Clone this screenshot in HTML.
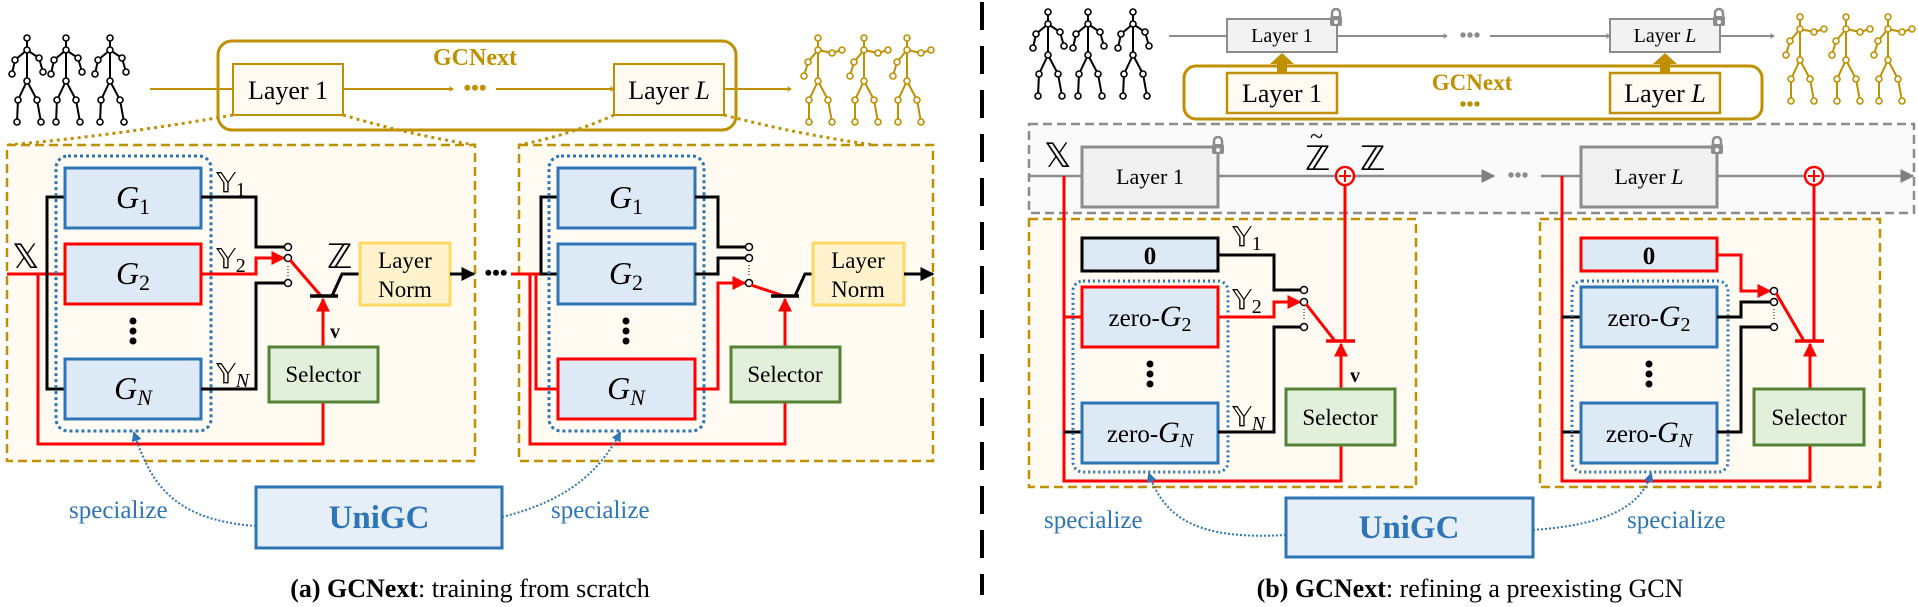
<!DOCTYPE html>
<html><head><meta charset="utf-8"><style>
html,body{margin:0;padding:0;background:#fff;}
svg{display:block;font-family:"Liberation Serif","Times New Roman",serif;}
svg text{font-family:"Liberation Serif","Times New Roman",serif;}
svg text.ds{font-family:"DejaVu Sans","Liberation Serif",serif;}
</style></head><body>
<svg width="1918" height="607" viewBox="0 0 1918 607" xmlns="http://www.w3.org/2000/svg" font-family="Liberation Serif, serif">
<defs>
<marker id="ag" viewBox="0 0 10 10" refX="9" refY="5" markerWidth="5" markerHeight="5" orient="auto" markerUnits="userSpaceOnUse"><path d="M1,0 L9,5 L1,10" fill="none" stroke="#bf9000" stroke-width="2"/></marker>
<marker id="agr" viewBox="0 0 10 10" refX="9" refY="5" markerWidth="5" markerHeight="5" orient="auto" markerUnits="userSpaceOnUse"><path d="M1,0 L9,5 L1,10" fill="none" stroke="#8c8c8c" stroke-width="2"/></marker>
<marker id="ab" viewBox="0 0 10 10" refX="9" refY="5" markerWidth="14" markerHeight="14" orient="auto" markerUnits="userSpaceOnUse"><path d="M0,0 L10,5 L0,10 z" fill="#000"/></marker>
<marker id="ar" viewBox="0 0 10 10" refX="9" refY="5" markerWidth="14" markerHeight="14" orient="auto" markerUnits="userSpaceOnUse"><path d="M0,0 L10,5 L0,10 z" fill="#ff0000"/></marker>
<marker id="agf" viewBox="0 0 10 10" refX="9" refY="5" markerWidth="14" markerHeight="14" orient="auto" markerUnits="userSpaceOnUse"><path d="M0,0 L10,5 L0,10 z" fill="#808080"/></marker>
<marker id="abl" viewBox="0 0 10 10" refX="8" refY="5" markerWidth="10" markerHeight="10" orient="auto" markerUnits="userSpaceOnUse"><path d="M0,0 L10,5 L0,10 z" fill="#2e75b6"/></marker>
<g id="sk">
<path d="M0,0 V43 M-12,22 L0,12 L12,20 M-12,22 L-15,36 M12,20 L16,34 M0,43 L-9,62 L-10,84 M0,43 L10,62 L14,84" fill="none" stroke-width="2"/>
<g fill="#fff" stroke-width="1.6"><circle cx="0" cy="0" r="3"/><circle cx="0" cy="12" r="3"/><circle cx="-12" cy="22" r="3"/><circle cx="12" cy="20" r="3"/><circle cx="-15" cy="36" r="3"/><circle cx="16" cy="34" r="3"/><circle cx="0" cy="43" r="3"/><circle cx="-9" cy="62" r="3"/><circle cx="10" cy="62" r="3"/><circle cx="-10" cy="84" r="3"/><circle cx="14" cy="84" r="3"/></g>
</g>
<g id="skg">
<path d="M0,0 V43 M-10,24 L0,12 L14,15 M-10,24 L-14,38 M14,15 L24,12 M0,43 L-9,62 L-9,84 M0,43 L10,62 L14,84" fill="none" stroke-width="2"/>
<g fill="#fff" stroke-width="1.6"><circle cx="0" cy="0" r="3"/><circle cx="0" cy="12" r="3"/><circle cx="-10" cy="24" r="3"/><circle cx="14" cy="15" r="3"/><circle cx="-14" cy="38" r="3"/><circle cx="24" cy="12" r="3"/><circle cx="0" cy="43" r="3"/><circle cx="-9" cy="62" r="3"/><circle cx="10" cy="62" r="3"/><circle cx="-9" cy="84" r="3"/><circle cx="14" cy="84" r="3"/></g>
</g>
<g id="lock"><rect x="-6" y="-3" width="12" height="10" rx="2" fill="#8c8c8c"/><path d="M-4,-3 V-6 A4,4 0 0 1 4,-6 V-3" fill="none" stroke="#8c8c8c" stroke-width="2.5"/><circle cx="0" cy="3" r="2" fill="#fff"/></g>
</defs>

<!-- ============ PANEL A ============ -->
<g stroke="#000"><use href="#sk" x="27" y="38"/><use href="#sk" x="66" y="38"/><use href="#sk" x="110" y="38"/></g>
<g stroke="#bf9000"><use href="#skg" x="818" y="38"/><use href="#skg" x="864" y="38"/><use href="#skg" x="907" y="38"/></g>

<rect x="218" y="41" width="518" height="89" rx="14" fill="#fff" stroke="#bf9000" stroke-width="3"/>
<text x="475" y="65" font-size="24" font-weight="bold" fill="#bf9000" text-anchor="middle">GCNext</text>
<line x1="150" y1="89" x2="233" y2="89" stroke="#bf9000" stroke-width="2"/>
<rect x="233" y="64" width="110" height="51" fill="#fffbf2" stroke="#bf9000" stroke-width="2"/>
<text x="288" y="99" font-size="26" text-anchor="middle">Layer 1</text>
<line x1="343" y1="89" x2="453" y2="89" stroke="#bf9000" stroke-width="2" marker-end="url(#ag)"/>
<text x="475" y="95" font-size="22" font-weight="bold" fill="#bf9000" text-anchor="middle">•••</text>
<line x1="496" y1="89" x2="614" y2="89" stroke="#bf9000" stroke-width="2" marker-end="url(#ag)"/>
<rect x="614" y="64" width="110" height="51" fill="#fffbf2" stroke="#bf9000" stroke-width="2"/>
<text x="669" y="99" font-size="26" text-anchor="middle">Layer <tspan font-style="italic">L</tspan></text>
<line x1="724" y1="89" x2="791" y2="89" stroke="#bf9000" stroke-width="2" marker-end="url(#ag)"/>

<g stroke="#bf9000" stroke-width="3" stroke-dasharray="3 4" fill="none">
<path d="M233,115 Q120,135 8,145"/><path d="M343,115 Q410,135 475,145"/>
<path d="M614,115 Q570,135 519,145"/><path d="M724,115 Q800,135 875,145"/>
</g>

<!-- box a1 -->
<rect x="7" y="145" width="468" height="316" fill="#fffbf2" stroke="#bf9000" stroke-width="2.5" stroke-dasharray="9 5"/>
<path d="M7,274 H65 M38,274 V444 H323 V402" fill="none" stroke="#ff0000" stroke-width="3"/>
<path d="M65,197 H47 V389 H65" fill="none" stroke="#000" stroke-width="3"/>
<rect x="56" y="156" width="155" height="275" rx="12" fill="none" stroke="#2e75b6" stroke-width="3" stroke-dasharray="3 3"/>
<rect x="65" y="168" width="136" height="60" fill="#dde9f5" stroke="#2e75b6" stroke-width="3"/>
<rect x="65" y="244" width="136" height="60" fill="#dde9f5" stroke="#ff0000" stroke-width="3"/>
<rect x="65" y="359" width="136" height="60" fill="#dde9f5" stroke="#2e75b6" stroke-width="3"/>
<text x="133" y="208" font-size="32" font-style="italic" text-anchor="middle">G<tspan font-size="22" font-style="normal" dy="6">1</tspan></text>
<text x="133" y="284" font-size="32" font-style="italic" text-anchor="middle">G<tspan font-size="22" font-style="normal" dy="6">2</tspan></text>
<text x="133" y="399" font-size="32" font-style="italic" text-anchor="middle">G<tspan font-size="22" dy="6">N</tspan></text>
<g fill="#000"><circle cx="133" cy="321" r="3.5"/><circle cx="133" cy="331" r="3.5"/><circle cx="133" cy="341" r="3.5"/></g>
<text x="12" y="268" font-size="34" class="ds">𝕏</text>
<text x="216" y="192" font-size="28" class="ds">𝕐<tspan font-size="20" font-family="Liberation Serif" dy="4">1</tspan></text>
<text x="216" y="268" font-size="28" class="ds">𝕐<tspan font-size="20" font-family="Liberation Serif" dy="4">2</tspan></text>
<text x="216" y="383" font-size="28" class="ds">𝕐<tspan font-size="20" font-family="Liberation Serif" font-style="italic" dy="4">N</tspan></text>
<path d="M201,197 H256 V247 H285" fill="none" stroke="#000" stroke-width="3"/>
<path d="M201,389 H256 V283 H285" fill="none" stroke="#000" stroke-width="3"/>
<path d="M201,274 H256 V258 H284" fill="none" stroke="#ff0000" stroke-width="3" marker-end="url(#ar)"/>
<g fill="#fff" stroke="#000" stroke-width="1.5"><circle cx="288" cy="247" r="3.5"/><circle cx="288" cy="258" r="3.5"/><circle cx="288" cy="283" r="3.5"/></g>
<line x1="288" y1="266" x2="288" y2="277" stroke="#000" stroke-width="1" stroke-dasharray="1 2"/>
<line x1="290" y1="260" x2="321" y2="296" stroke="#ff0000" stroke-width="3"/>
<line x1="310" y1="296" x2="338" y2="296" stroke="#000" stroke-width="3.5"/>
<path d="M332,296 L342,274 H360" fill="none" stroke="#000" stroke-width="3"/>
<text x="327" y="268" font-size="34" class="ds">ℤ</text>
<line x1="323" y1="347" x2="323" y2="299" stroke="#ff0000" stroke-width="3" marker-end="url(#ar)"/>
<text x="330" y="338" font-size="20" font-weight="bold">v</text>
<rect x="269" y="347" width="109" height="55" fill="#e2efda" stroke="#548235" stroke-width="3"/>
<text x="323" y="382" font-size="23" text-anchor="middle">Selector</text>
<rect x="360" y="243" width="90" height="62" fill="#fff2cc" stroke="#ffd966" stroke-width="3"/>
<text x="405" y="268" font-size="23" text-anchor="middle">Layer</text>
<text x="405" y="297" font-size="23" text-anchor="middle">Norm</text>
<line x1="450" y1="274" x2="474" y2="274" stroke="#000" stroke-width="3" marker-end="url(#ab)"/>
<text x="496" y="280" font-size="22" font-weight="bold" text-anchor="middle">•••</text>

<!-- box a2 -->
<rect x="519" y="145" width="414" height="316" fill="#fffbf2" stroke="#bf9000" stroke-width="2.5" stroke-dasharray="9 5"/>
<path d="M511,274 H541 M530,274 V444 H785 V402 M536,274 V389 H558" fill="none" stroke="#ff0000" stroke-width="3"/>
<path d="M558,197 H541 V274 H558" fill="none" stroke="#000" stroke-width="3"/>
<rect x="549" y="156" width="155" height="275" rx="12" fill="none" stroke="#2e75b6" stroke-width="3" stroke-dasharray="3 3"/>
<rect x="558" y="168" width="137" height="60" fill="#dde9f5" stroke="#2e75b6" stroke-width="3"/>
<rect x="558" y="244" width="137" height="60" fill="#dde9f5" stroke="#2e75b6" stroke-width="3"/>
<rect x="558" y="359" width="137" height="60" fill="#dde9f5" stroke="#ff0000" stroke-width="3"/>
<text x="626" y="208" font-size="32" font-style="italic" text-anchor="middle">G<tspan font-size="22" font-style="normal" dy="6">1</tspan></text>
<text x="626" y="284" font-size="32" font-style="italic" text-anchor="middle">G<tspan font-size="22" font-style="normal" dy="6">2</tspan></text>
<text x="626" y="399" font-size="32" font-style="italic" text-anchor="middle">G<tspan font-size="22" dy="6">N</tspan></text>
<g fill="#000"><circle cx="626" cy="321" r="3.5"/><circle cx="626" cy="331" r="3.5"/><circle cx="626" cy="341" r="3.5"/></g>
<path d="M695,197 H718 V247 H746" fill="none" stroke="#000" stroke-width="3"/>
<path d="M695,274 H718 V258 H746" fill="none" stroke="#000" stroke-width="3"/>
<path d="M695,389 H718 V283 H745" fill="none" stroke="#ff0000" stroke-width="3" marker-end="url(#ar)"/>
<g fill="#fff" stroke="#000" stroke-width="1.5"><circle cx="749" cy="247" r="3.5"/><circle cx="749" cy="258" r="3.5"/><circle cx="749" cy="283" r="3.5"/></g>
<line x1="749" y1="265" x2="749" y2="277" stroke="#000" stroke-width="1" stroke-dasharray="1 2"/>
<line x1="751" y1="285" x2="784" y2="296" stroke="#ff0000" stroke-width="3"/>
<line x1="771" y1="296" x2="799" y2="296" stroke="#000" stroke-width="3.5"/>
<path d="M795,296 L805,274 H813" fill="none" stroke="#000" stroke-width="3"/>
<line x1="785" y1="347" x2="785" y2="299" stroke="#ff0000" stroke-width="3" marker-end="url(#ar)"/>
<rect x="731" y="347" width="109" height="55" fill="#e2efda" stroke="#548235" stroke-width="3"/>
<text x="785" y="382" font-size="23" text-anchor="middle">Selector</text>
<rect x="813" y="243" width="91" height="62" fill="#fff2cc" stroke="#ffd966" stroke-width="3"/>
<text x="858" y="268" font-size="23" text-anchor="middle">Layer</text>
<text x="858" y="297" font-size="23" text-anchor="middle">Norm</text>
<line x1="904" y1="274" x2="933" y2="274" stroke="#000" stroke-width="3" marker-end="url(#ab)"/>

<!-- UniGC a -->
<rect x="256" y="487" width="246" height="61" fill="#e6eef8" stroke="#2e75b6" stroke-width="3"/>
<text x="379" y="528" font-size="33" font-weight="bold" fill="#2e75b6" text-anchor="middle">UniGC</text>
<text x="69" y="518" font-size="25" fill="#2e75b6">specialize</text>
<text x="551" y="518" font-size="25" fill="#2e75b6">specialize</text>
<path d="M256,526 C170,520 150,480 134,433" fill="none" stroke="#2e75b6" stroke-width="2" stroke-dasharray="2 2" marker-end="url(#abl)"/>
<path d="M502,517 C570,500 600,470 620,433" fill="none" stroke="#2e75b6" stroke-width="2" stroke-dasharray="2 2" marker-end="url(#abl)"/>
<text x="470" y="597" font-size="26" text-anchor="middle"><tspan font-weight="bold">(a) GCNext</tspan>: training from scratch</text>

<!-- separator -->
<line x1="982" y1="2" x2="982" y2="595" stroke="#000" stroke-width="4" stroke-dasharray="28 16"/>

<!-- ============ PANEL B ============ -->
<g stroke="#000"><use href="#sk" x="1048" y="12"/><use href="#sk" x="1088" y="12"/><use href="#sk" x="1133" y="12"/></g>
<g stroke="#bf9000"><use href="#skg" x="1800" y="17"/><use href="#skg" x="1846" y="17"/><use href="#skg" x="1888" y="17"/></g>

<line x1="1169" y1="36" x2="1227" y2="36" stroke="#8c8c8c" stroke-width="2"/>
<rect x="1227" y="19" width="110" height="33" fill="#f2f2f2" stroke="#8c8c8c" stroke-width="2"/>
<text x="1282" y="42" font-size="20" text-anchor="middle">Layer 1</text>
<use href="#lock" x="1336" y="19"/>
<line x1="1337" y1="36" x2="1447" y2="36" stroke="#8c8c8c" stroke-width="2" marker-end="url(#agr)"/>
<text x="1470" y="42" font-size="20" font-weight="bold" fill="#8c8c8c" text-anchor="middle">•••</text>
<line x1="1490" y1="36" x2="1610" y2="36" stroke="#8c8c8c" stroke-width="2" marker-end="url(#agr)"/>
<rect x="1610" y="19" width="110" height="33" fill="#f2f2f2" stroke="#8c8c8c" stroke-width="2"/>
<text x="1665" y="42" font-size="20" text-anchor="middle">Layer <tspan font-style="italic">L</tspan></text>
<use href="#lock" x="1719" y="19"/>
<line x1="1720" y1="36" x2="1774" y2="36" stroke="#8c8c8c" stroke-width="2" marker-end="url(#agr)"/>

<rect x="1184" y="66" width="578" height="53" rx="12" fill="#fff" stroke="#bf9000" stroke-width="3"/>
<rect x="1227" y="73" width="110" height="40" fill="#fffbf2" stroke="#bf9000" stroke-width="2.5"/>
<text x="1282" y="102" font-size="26" text-anchor="middle">Layer 1</text>
<rect x="1610" y="73" width="110" height="40" fill="#fffbf2" stroke="#bf9000" stroke-width="2.5"/>
<text x="1665" y="102" font-size="26" text-anchor="middle">Layer <tspan font-style="italic">L</tspan></text>
<path d="M1277,73 V64 H1270 L1282,53 L1294,64 H1287 V73 z" fill="#bf9000"/>
<path d="M1660,73 V64 H1653 L1665,53 L1677,64 H1670 V73 z" fill="#bf9000"/>
<text x="1472" y="90" font-size="23" font-weight="bold" fill="#bf9000" text-anchor="middle">GCNext</text>
<text x="1470" y="111" font-size="20" font-weight="bold" fill="#bf9000" text-anchor="middle">•••</text>

<!-- gray dashed frame -->
<rect x="1029" y="124" width="885" height="89" fill="#fafafa" stroke="#8c8c8c" stroke-width="2.5" stroke-dasharray="9 5"/>
<line x1="1029" y1="176" x2="1082" y2="176" stroke="#8c8c8c" stroke-width="2.5"/>
<rect x="1082" y="147" width="136" height="60" fill="#f0f0f0" stroke="#8c8c8c" stroke-width="3"/>
<text x="1150" y="184" font-size="22" text-anchor="middle">Layer 1</text>
<use href="#lock" x="1218" y="147"/>
<text x="1044" y="167" font-size="34" class="ds">𝕏</text>
<line x1="1218" y1="176" x2="1494" y2="176" stroke="#8c8c8c" stroke-width="2.5" marker-end="url(#agf)"/>
<text x="1305" y="170" font-size="34" class="ds">ℤ</text>
<text x="1310" y="144" font-size="24">~</text>
<text x="1360" y="170" font-size="34" class="ds">ℤ</text>
<text x="1518" y="182" font-size="20" font-weight="bold" fill="#8c8c8c" text-anchor="middle">•••</text>
<line x1="1541" y1="176" x2="1581" y2="176" stroke="#8c8c8c" stroke-width="2.5"/>
<rect x="1581" y="147" width="136" height="60" fill="#f0f0f0" stroke="#8c8c8c" stroke-width="3"/>
<text x="1649" y="184" font-size="22" text-anchor="middle">Layer <tspan font-style="italic">L</tspan></text>
<use href="#lock" x="1717" y="147"/>
<line x1="1717" y1="176" x2="1913" y2="176" stroke="#8c8c8c" stroke-width="2.5" marker-end="url(#agf)"/>

<!-- box b1 -->
<rect x="1029" y="219" width="387" height="268" fill="#fffbf2" stroke="#bf9000" stroke-width="2.5" stroke-dasharray="9 5"/>
<path d="M1064,176 V481 H1341 V445 M1064,317 H1082" fill="none" stroke="#ff0000" stroke-width="3"/>
<line x1="1064" y1="432" x2="1082" y2="432" stroke="#000" stroke-width="3"/>
<rect x="1082" y="238" width="136" height="33" fill="#dde9f5" stroke="#000" stroke-width="3"/>
<text x="1150" y="264" font-size="25" font-weight="bold" text-anchor="middle">0</text>
<rect x="1073" y="281" width="155" height="191" rx="10" fill="none" stroke="#2e75b6" stroke-width="3" stroke-dasharray="2 3"/>
<rect x="1082" y="287" width="136" height="60" fill="#dde9f5" stroke="#ff0000" stroke-width="3"/>
<rect x="1082" y="403" width="136" height="60" fill="#dde9f5" stroke="#2e75b6" stroke-width="3"/>
<text x="1150" y="326" font-size="25" text-anchor="middle">zero-<tspan font-style="italic" font-size="30">G</tspan><tspan font-size="20" dy="5">2</tspan></text>
<text x="1150" y="442" font-size="25" text-anchor="middle">zero-<tspan font-style="italic" font-size="30">G</tspan><tspan font-size="20" font-style="italic" dy="5">N</tspan></text>
<g fill="#000"><circle cx="1150" cy="364" r="3.5"/><circle cx="1150" cy="374" r="3.5"/><circle cx="1150" cy="384" r="3.5"/></g>
<text x="1232" y="246" font-size="28" class="ds">𝕐<tspan font-size="20" font-family="Liberation Serif" dy="4">1</tspan></text>
<text x="1232" y="309" font-size="28" class="ds">𝕐<tspan font-size="20" font-family="Liberation Serif" dy="4">2</tspan></text>
<text x="1232" y="426" font-size="28" class="ds">𝕐<tspan font-size="20" font-family="Liberation Serif" font-style="italic" dy="4">N</tspan></text>
<path d="M1218,255 H1274 V290 H1301" fill="none" stroke="#000" stroke-width="3"/>
<path d="M1218,432 H1274 V327 H1301" fill="none" stroke="#000" stroke-width="3"/>
<path d="M1218,317 H1274 V302 H1300" fill="none" stroke="#ff0000" stroke-width="3" marker-end="url(#ar)"/>
<g fill="#fff" stroke="#000" stroke-width="1.5"><circle cx="1304" cy="290" r="3.5"/><circle cx="1304" cy="302" r="3.5"/><circle cx="1304" cy="327" r="3.5"/></g>
<line x1="1304" y1="309" x2="1304" y2="321" stroke="#000" stroke-width="1" stroke-dasharray="1 2"/>
<line x1="1306" y1="304" x2="1335" y2="341" stroke="#ff0000" stroke-width="3"/>
<line x1="1326" y1="341" x2="1355" y2="341" stroke="#ff0000" stroke-width="3.5"/>
<line x1="1345" y1="341" x2="1345" y2="185" stroke="#ff0000" stroke-width="3"/>
<line x1="1341" y1="389" x2="1341" y2="344" stroke="#ff0000" stroke-width="3" marker-end="url(#ar)"/>
<text x="1350" y="382" font-size="20" font-weight="bold">v</text>
<rect x="1286" y="389" width="109" height="56" fill="#e2efda" stroke="#548235" stroke-width="3"/>
<text x="1340" y="425" font-size="23" text-anchor="middle">Selector</text>
<circle cx="1345" cy="176" r="9" fill="#fff" stroke="#ff0000" stroke-width="2.5"/>
<path d="M1345,170 V182 M1339,176 H1351" stroke="#ff0000" stroke-width="2"/>

<!-- box b2 -->
<rect x="1540" y="219" width="340" height="268" fill="#fffbf2" stroke="#bf9000" stroke-width="2.5" stroke-dasharray="9 5"/>
<path d="M1562,176 V481 H1810 V445" fill="none" stroke="#ff0000" stroke-width="3"/>
<path d="M1562,317 H1581 M1562,432 H1581" fill="none" stroke="#000" stroke-width="3"/>
<rect x="1581" y="238" width="136" height="33" fill="#dde9f5" stroke="#ff0000" stroke-width="3"/>
<text x="1649" y="264" font-size="25" font-weight="bold" text-anchor="middle">0</text>
<rect x="1572" y="281" width="156" height="191" rx="10" fill="none" stroke="#2e75b6" stroke-width="3" stroke-dasharray="2 3"/>
<rect x="1581" y="287" width="136" height="60" fill="#dde9f5" stroke="#2e75b6" stroke-width="3"/>
<rect x="1581" y="403" width="136" height="60" fill="#dde9f5" stroke="#2e75b6" stroke-width="3"/>
<text x="1649" y="326" font-size="25" text-anchor="middle">zero-<tspan font-style="italic" font-size="30">G</tspan><tspan font-size="20" dy="5">2</tspan></text>
<text x="1649" y="442" font-size="25" text-anchor="middle">zero-<tspan font-style="italic" font-size="30">G</tspan><tspan font-size="20" font-style="italic" dy="5">N</tspan></text>
<g fill="#000"><circle cx="1649" cy="364" r="3.5"/><circle cx="1649" cy="374" r="3.5"/><circle cx="1649" cy="384" r="3.5"/></g>
<path d="M1717,255 H1741 V291 H1770" fill="none" stroke="#ff0000" stroke-width="3" marker-end="url(#ar)"/>
<path d="M1717,317 H1741 V302 H1771" fill="none" stroke="#000" stroke-width="3"/>
<path d="M1717,432 H1741 V327 H1771" fill="none" stroke="#000" stroke-width="3"/>
<g fill="#fff" stroke="#000" stroke-width="1.5"><circle cx="1774" cy="291" r="3.5"/><circle cx="1774" cy="302" r="3.5"/><circle cx="1774" cy="327" r="3.5"/></g>
<line x1="1774" y1="309" x2="1774" y2="321" stroke="#000" stroke-width="1" stroke-dasharray="1 2"/>
<line x1="1776" y1="293" x2="1804" y2="341" stroke="#ff0000" stroke-width="3"/>
<line x1="1795" y1="341" x2="1824" y2="341" stroke="#ff0000" stroke-width="3.5"/>
<line x1="1814" y1="341" x2="1814" y2="185" stroke="#ff0000" stroke-width="3"/>
<line x1="1810" y1="389" x2="1810" y2="344" stroke="#ff0000" stroke-width="3" marker-end="url(#ar)"/>
<rect x="1754" y="389" width="110" height="56" fill="#e2efda" stroke="#548235" stroke-width="3"/>
<text x="1809" y="425" font-size="23" text-anchor="middle">Selector</text>
<circle cx="1814" cy="176" r="9" fill="#fff" stroke="#ff0000" stroke-width="2.5"/>
<path d="M1814,170 V182 M1808,176 H1820" stroke="#ff0000" stroke-width="2"/>

<!-- UniGC b -->
<rect x="1286" y="498" width="247" height="59" fill="#e6eef8" stroke="#2e75b6" stroke-width="3"/>
<text x="1409" y="538" font-size="33" font-weight="bold" fill="#2e75b6" text-anchor="middle">UniGC</text>
<text x="1044" y="528" font-size="25" fill="#2e75b6">specialize</text>
<text x="1627" y="528" font-size="25" fill="#2e75b6">specialize</text>
<path d="M1286,535 C1200,540 1165,520 1149,474" fill="none" stroke="#2e75b6" stroke-width="2" stroke-dasharray="2 2" marker-end="url(#abl)"/>
<path d="M1533,530 C1600,525 1640,510 1651,474" fill="none" stroke="#2e75b6" stroke-width="2" stroke-dasharray="2 2" marker-end="url(#abl)"/>
<text x="1470" y="597" font-size="26" text-anchor="middle"><tspan font-weight="bold">(b) GCNext</tspan>: refining a preexisting GCN</text>
</svg>
</body></html>
